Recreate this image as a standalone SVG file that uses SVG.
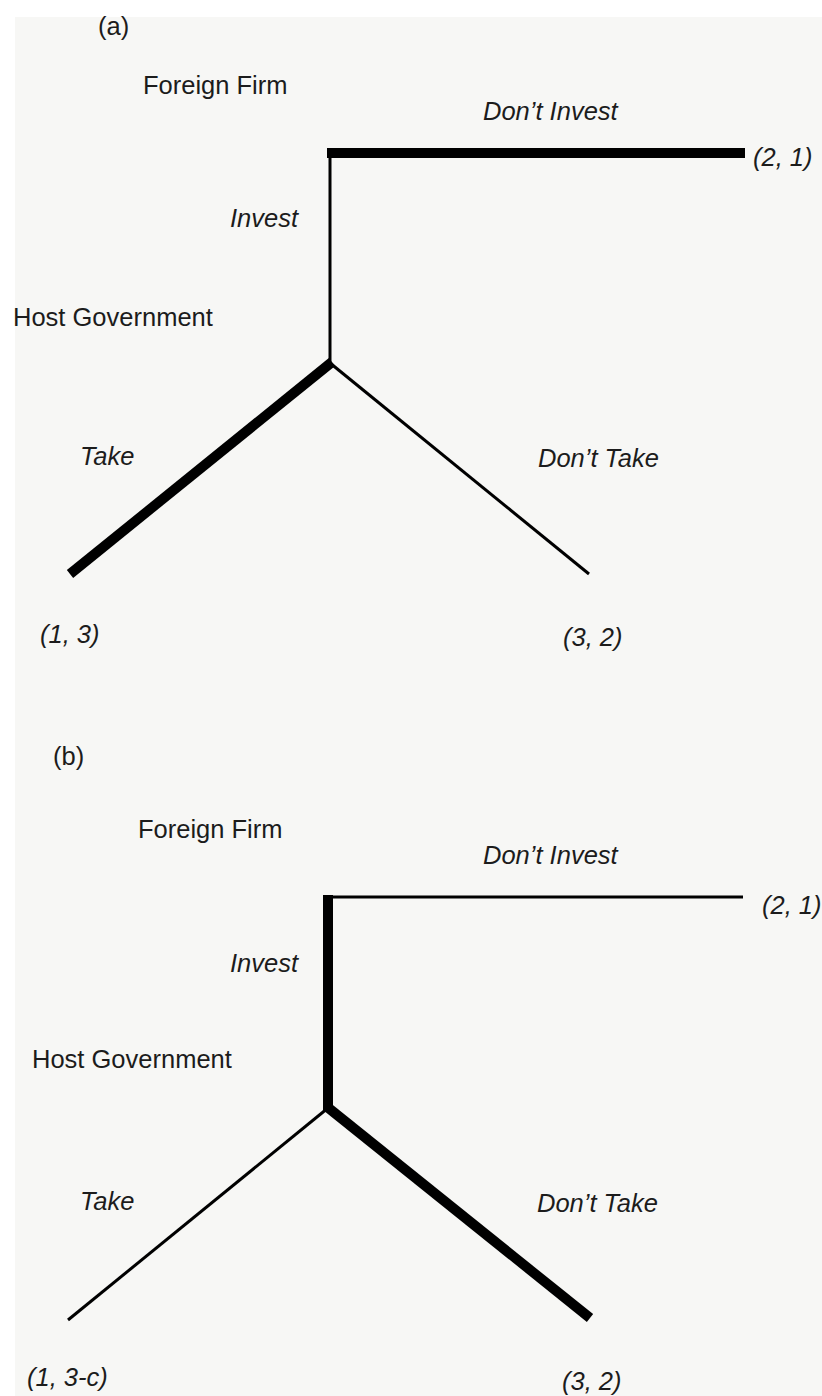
<svg xmlns="http://www.w3.org/2000/svg" width="822" height="1396" viewBox="0 0 822 1396">
<style>
  text { font-family: "Liberation Sans", Arial, sans-serif; font-size: 25.5px; fill: #1c1c1c; }
  .it { font-style: italic; }
  .thick { stroke: #000; stroke-width: 10; fill: none; stroke-linecap: butt; }
  .thin { stroke: #000; stroke-width: 3; fill: none; stroke-linecap: butt; }
</style>
<rect x="0" y="0" width="822" height="1396" fill="#ffffff"/>
<rect x="15" y="17" width="807" height="1379" fill="#f7f7f5"/>

<g id="connectors">
  <g id="edges-a">
    <line class="thick" x1="327" y1="153" x2="745" y2="153"/>
    <line class="thin" x1="330" y1="148" x2="330" y2="364"/>
    <line class="thick" x1="332" y1="362" x2="70" y2="574"/>
    <line class="thin" x1="330" y1="363" x2="589" y2="574"/>
  </g>
  <g id="edges-b">
    <line class="thin" x1="326" y1="897" x2="743" y2="897"/>
    <line class="thick" x1="328" y1="895" x2="328" y2="1110"/>
    <line class="thin" x1="328" y1="1108" x2="68" y2="1320"/>
    <line class="thick" x1="326" y1="1106" x2="590" y2="1318"/>
  </g>
</g>

<g id="panel-a">
  <text id="label-a" x="98" y="35">(a)</text>
  <g id="node-a-firm"><text x="143" y="94">Foreign Firm</text></g>
  <g id="node-a-host"><text x="13" y="326">Host Government</text></g>
  <text class="it" x="483" y="120">Don’t Invest</text>
  <text class="it" x="230" y="227">Invest</text>
  <text class="it" x="80" y="465">Take</text>
  <text class="it" x="538" y="467">Don’t Take</text>
  <g id="node-a-p1"><text class="it" x="753" y="166">(2, 1)</text></g>
  <g id="node-a-p2"><text class="it" x="40" y="643">(1, 3)</text></g>
  <g id="node-a-p3"><text class="it" x="563" y="646">(3, 2)</text></g>
</g>

<g id="panel-b">
  <text id="label-b" x="53" y="765">(b)</text>
  <g id="node-b-firm"><text x="138" y="838">Foreign Firm</text></g>
  <g id="node-b-host"><text x="32" y="1068">Host Government</text></g>
  <text class="it" x="483" y="864">Don’t Invest</text>
  <text class="it" x="230" y="972">Invest</text>
  <text class="it" x="80" y="1210">Take</text>
  <text class="it" x="537" y="1212">Don’t Take</text>
  <g id="node-b-p1"><text class="it" x="762" y="914">(2, 1)</text></g>
  <g id="node-b-p2"><text class="it" x="27" y="1386">(1, 3-c)</text></g>
  <g id="node-b-p3"><text class="it" x="562" y="1390">(3, 2)</text></g>
</g>
</svg>
